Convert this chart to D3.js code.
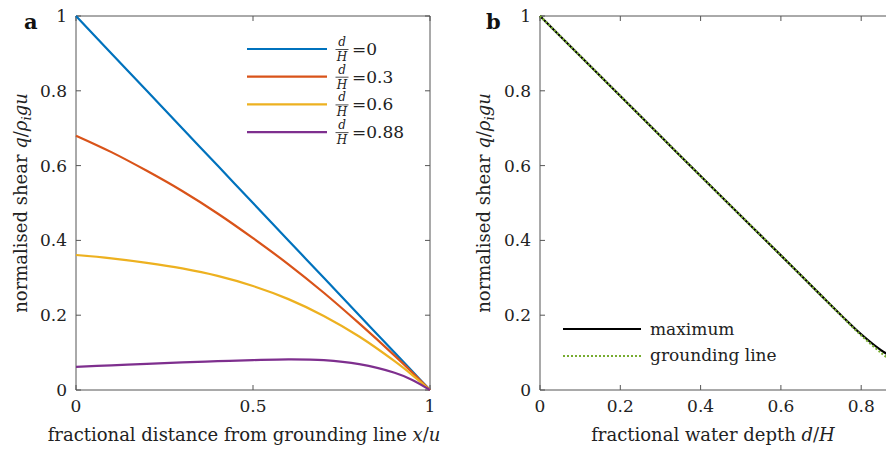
<!DOCTYPE html>
<html><head><meta charset="utf-8">
<script src="https://cdn.jsdelivr.net/npm/d3@7"></script>
<style>body{margin:0;background:#fff;overflow:hidden}</style>
</head><body><svg id="c" width="886" height="451"></svg>
<script>
// ---- data ----
const xsA = [0,0.1,0.2,0.3,0.4,0.5,0.6,0.7,0.8,0.9,0.95,1];
const q0   = [1,0.9,0.8,0.7,0.6,0.5,0.4,0.3,0.2,0.1,0.05,0];
const q03  = [0.68,0.636,0.586,0.532,0.472,0.406,0.336,0.260,0.178,0.092,0.047,0];
const q06  = [0.361,0.352,0.340,0.325,0.305,0.278,0.243,0.198,0.143,0.077,0.040,0];
const q088 = [0.062,0.066,0.070,0.074,0.077,0.080,0.082,0.080,0.069,0.046,0.027,0];
const labelsA = ["0","0.3","0.6","0.88"];
const colorsA = ["#0072BD","#D95319","#EDB120","#7E2F8E"];

const xsB = [0,0.1,0.2,0.3,0.4,0.5,0.6,0.7,0.75,0.8,0.85,0.88];
const qMax = [1,0.893,0.786,0.679,0.572,0.466,0.360,0.253,0.200,0.149,0.106,0.087];
const qGL  = [1,0.893,0.786,0.679,0.572,0.466,0.360,0.253,0.199,0.146,0.099,0.074];

const yTicks = [0,0.2,0.4,0.6,0.8,1];
const xTicksA = [0,0.5,1];
const xTicksB = [0,0.2,0.4,0.6,0.8];

const svg = d3.select("#c");
const FONT = "DejaVu Serif";
const axisCol = "#555";
const FS = 17;   // ticks, legend
const LFS = 18;  // axis labels

const yTop = 16, yBot = 390;
const y = d3.scaleLinear().domain([0,1]).range([yBot,yTop]);
const xA = d3.scaleLinear().domain([0,1]).range([76,430]);
const xB = d3.scaleLinear().domain([0,1]).range([540,941.5]);

function txt(g){ return g.append("text").attr("font-family",FONT).attr("fill","#222"); }

function drawAxes(x, xt){
  const [x0,x1] = x.range();
  const g = svg.append("g");
  [[x0,yTop,x0,yBot],[x0,yBot,x1,yBot],[x0,yTop,x1,yTop],[x1,yTop,x1,yBot]].forEach(c=>{
    g.append("line").attr("x1",c[0]).attr("y1",c[1]).attr("x2",c[2]).attr("y2",c[3]).attr("stroke",axisCol);
  });
  yTicks.forEach(v=>{
    g.append("line").attr("x1",x0).attr("x2",x0+5).attr("y1",y(v)).attr("y2",y(v)).attr("stroke",axisCol);
    g.append("line").attr("x1",x1).attr("x2",x1-5).attr("y1",y(v)).attr("y2",y(v)).attr("stroke",axisCol);
    txt(g).attr("x",x0-9).attr("y",y(v)+6).attr("text-anchor","end")
      .attr("font-size",FS).text(d3.format("~g")(v));
  });
  xt.forEach(v=>{
    g.append("line").attr("x1",x(v)).attr("x2",x(v)).attr("y1",yBot).attr("y2",yBot-5).attr("stroke",axisCol);
    g.append("line").attr("x1",x(v)).attr("x2",x(v)).attr("y1",yTop).attr("y2",yTop+5).attr("stroke",axisCol);
    txt(g).attr("x",x(v)).attr("y",yBot+22).attr("text-anchor","middle")
      .attr("font-size",FS).text(d3.format("~g")(v));
  });
}

function ylabel(cx){
  const t = txt(svg).attr("transform",`translate(${cx},${(yTop+yBot)/2}) rotate(-90)`)
    .attr("text-anchor","middle").attr("font-size",LFS);
  t.append("tspan").text("normalised shear ");
  t.append("tspan").attr("font-style","italic").text("q");
  t.append("tspan").text("/");
  t.append("tspan").attr("font-style","italic").text("ρ");
  t.append("tspan").attr("font-style","italic").attr("font-size",13).attr("dy",4).text("i");
  t.append("tspan").attr("font-style","italic").attr("dy",-4).text("gu");
}

// ---- panel a ----
drawAxes(xA, xTicksA);
ylabel(27);
{
  const t = txt(svg).attr("x",(76+430)/2-9).attr("y",441).attr("text-anchor","middle").attr("font-size",LFS);
  t.append("tspan").text("fractional distance from grounding line ");
  t.append("tspan").attr("font-style","italic").text("x");
  t.append("tspan").text("/");
  t.append("tspan").attr("font-style","italic").text("u");
}
const lineA = d3.line().x((d,i)=>xA(xsA[i])).y(d=>y(d)).curve(d3.curveCatmullRom.alpha(0.5));
[q0,q03,q06,q088].forEach((s,k)=>{
  svg.append("path").attr("d",lineA(s)).attr("fill","none").attr("stroke",colorsA[k]).attr("stroke-width",2.2);
});
// legend a
labelsA.forEach((lab,k)=>{
  const ly = 49 + k*27.7;
  svg.append("line").attr("x1",247).attr("x2",327).attr("y1",ly).attr("y2",ly)
    .attr("stroke",colorsA[k]).attr("stroke-width",2.2);
  const fx = 342;
  txt(svg).attr("x",fx).attr("y",ly-3).attr("text-anchor","middle").attr("font-size",12)
    .attr("font-style","italic").text("d");
  svg.append("line").attr("x1",fx-6.5).attr("x2",fx+6.5).attr("y1",ly+0.5).attr("y2",ly+0.5).attr("stroke","#222").attr("stroke-width",0.8);
  txt(svg).attr("x",fx).attr("y",ly+12).attr("text-anchor","middle").attr("font-size",12)
    .attr("font-style","italic").text("H");
  txt(svg).attr("x",fx+10).attr("y",ly+6).attr("font-size",FS).text("="+lab);
});

// ---- panel b ----
drawAxes(xB, xTicksB);
ylabel(490);
{
  const t = txt(svg).attr("x",713).attr("y",441).attr("text-anchor","middle").attr("font-size",LFS);
  t.append("tspan").text("fractional water depth ");
  t.append("tspan").attr("font-style","italic").text("d");
  t.append("tspan").text("/");
  t.append("tspan").attr("font-style","italic").text("H");
}
const lineB = d3.line().x((d,i)=>xB(xsB[i])).y(d=>y(d)).curve(d3.curveCatmullRom.alpha(0.5));
svg.append("path").attr("d",lineB(qMax)).attr("fill","none").attr("stroke","#000").attr("stroke-width",2.2);
svg.append("path").attr("d",lineB(qGL)).attr("fill","none").attr("stroke","#77AC30").attr("stroke-width",2.2).attr("stroke-dasharray","2,2");
// legend b
svg.append("line").attr("x1",563).attr("x2",641).attr("y1",329).attr("y2",329).attr("stroke","#000").attr("stroke-width",2.2);
svg.append("line").attr("x1",563).attr("x2",641).attr("y1",356).attr("y2",356).attr("stroke","#77AC30").attr("stroke-width",2.2).attr("stroke-dasharray","2,2");
txt(svg).attr("x",650).attr("y",335).attr("font-size",FS).text("maximum");
txt(svg).attr("x",650).attr("y",361).attr("font-size",FS).text("grounding line");

// panel letters
txt(svg).attr("x",24).attr("y",29).attr("font-size",21).attr("font-weight","bold").attr("fill","#111").text("a");
txt(svg).attr("x",486).attr("y",29).attr("font-size",21).attr("font-weight","bold").attr("fill","#111").text("b");
</script></body></html>
